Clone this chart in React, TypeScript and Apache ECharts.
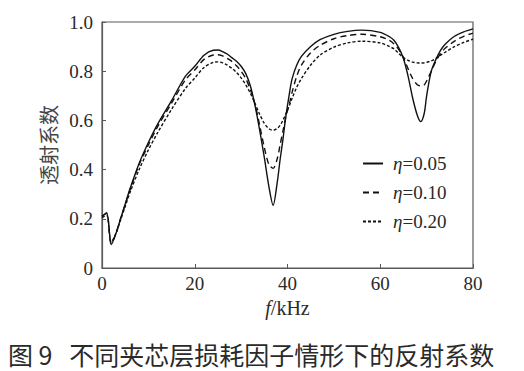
import React, { useEffect, useRef } from "react";
import * as echarts from "echarts";

const freq = [0, 1, 2, 3, 4, 5, 6, 8, 10, 12, 15, 18, 20, 22, 24, 25, 26, 27, 28, 29, 30, 31, 32, 33, 34, 35, 36, 36.9, 37.8, 38.4, 39, 39.6, 40.5, 41, 42, 43, 45, 47, 50, 53, 56, 60, 62, 63, 64, 65, 66, 67, 68, 68.75, 69.5, 70, 71, 72, 73, 74, 76, 78, 80];

const eta005 = [0.21, 0.225, 0.095, 0.14, 0.2, 0.26, 0.32, 0.425, 0.51, 0.585, 0.68, 0.78, 0.82, 0.865, 0.885, 0.886, 0.88, 0.87, 0.855, 0.84, 0.82, 0.79, 0.74, 0.66, 0.56, 0.45, 0.33, 0.255, 0.35, 0.44, 0.52, 0.61, 0.72, 0.77, 0.825, 0.86, 0.9, 0.928, 0.95, 0.962, 0.967, 0.958, 0.94, 0.925, 0.895, 0.852, 0.78, 0.69, 0.62, 0.595, 0.63, 0.7, 0.8, 0.848, 0.885, 0.91, 0.942, 0.96, 0.972];

const eta010 = [0.21, 0.222, 0.098, 0.14, 0.2, 0.258, 0.315, 0.42, 0.5, 0.575, 0.67, 0.765, 0.805, 0.848, 0.866, 0.867, 0.862, 0.852, 0.84, 0.822, 0.8, 0.77, 0.725, 0.665, 0.58, 0.49, 0.42, 0.405, 0.445, 0.5, 0.555, 0.61, 0.675, 0.715, 0.78, 0.825, 0.875, 0.905, 0.932, 0.945, 0.95, 0.94, 0.925, 0.91, 0.888, 0.855, 0.81, 0.77, 0.745, 0.74, 0.745, 0.76, 0.8, 0.84, 0.872, 0.893, 0.922, 0.942, 0.955];

const eta020 = [0.205, 0.215, 0.105, 0.14, 0.195, 0.25, 0.305, 0.4, 0.48, 0.55, 0.645, 0.73, 0.772, 0.815, 0.836, 0.838, 0.834, 0.825, 0.812, 0.795, 0.773, 0.745, 0.71, 0.668, 0.625, 0.588, 0.566, 0.56, 0.568, 0.58, 0.6, 0.625, 0.665, 0.69, 0.735, 0.77, 0.825, 0.865, 0.898, 0.915, 0.922, 0.915, 0.9, 0.89, 0.872, 0.855, 0.844, 0.837, 0.834, 0.833, 0.834, 0.836, 0.842, 0.852, 0.865, 0.877, 0.9, 0.917, 0.93];

const seriesNames = ["η=0.05", "η=0.10", "η=0.20"];
const seriesValues = [eta005, eta010, eta020];
const dashTypes: any[] = ["solid", [6, 4], [3, 2]];

const yName = "透射系数";
const caption = "图 9   不同夹芯层损耗因子情形下的反射系数";

const SERIF = "Liberation Serif";
const CJK = "Noto Sans CJK SC";
const AXIS_COLOR = "#5a5a5a";
const TEXT_COLOR = "#2a2a2a";

export default function App() {
  const ref = useRef<HTMLDivElement>(null);

  useEffect(() => {
    if (!ref.current) return;
    const chart = echarts.init(ref.current, undefined, { renderer: "svg" });
    const option: any = {
      animation: false,
      backgroundColor: "#ffffff",
      title: {
        text: caption,
        left: 8,
        top: 341,
        padding: 0,
        textStyle: {
          fontFamily: CJK,
          fontSize: 25,
          fontWeight: "normal",
          color: TEXT_COLOR,
        },
      },
      grid: {
        left: 102,
        right: 51,
        top: 22,
        bottom: 103,
        show: true,
        borderColor: AXIS_COLOR,
        borderWidth: 1.2,
        containLabel: false,
      },
      legend: {
        orient: "vertical",
        left: 357,
        top: 149,
        itemWidth: 20,
        itemHeight: 12,
        itemGap: 10,
        data: seriesNames,
        itemStyle: { opacity: 0, color: "transparent", borderWidth: 0 },
        formatter: (name: string) => `{i|η}{t|${name.slice(1)}}`,
        textStyle: {
          padding: [0, 0, 0, 5],
          rich: {
            i: { fontFamily: SERIF, fontStyle: "italic", fontSize: 19, color: TEXT_COLOR },
            t: { fontFamily: SERIF, fontSize: 19, color: TEXT_COLOR },
          },
        },
      },
      xAxis: {
        type: "value",
        min: 0,
        max: 80,
        interval: 20,
        name: "{i|f}{t|/kHz}",
        nameLocation: "middle",
        nameGap: 40,
        nameTextStyle: {
          fontFamily: SERIF,
          fontSize: 20,
          color: TEXT_COLOR,
          verticalAlign: "middle",
          rich: {
            i: { fontFamily: SERIF, fontStyle: "italic", fontSize: 20, color: TEXT_COLOR },
            t: { fontFamily: SERIF, fontSize: 20, color: TEXT_COLOR },
          },
        },
        axisLine: { show: true, lineStyle: { color: AXIS_COLOR, width: 1.2 } },
        axisTick: { show: true, inside: true, length: 4, lineStyle: { color: AXIS_COLOR } },
        axisLabel: {
          margin: 6,
          fontFamily: SERIF,
          fontSize: 19,
          color: TEXT_COLOR,
        },
        splitLine: { show: false },
      },
      yAxis: {
        type: "value",
        min: 0,
        max: 1,
        interval: 0.2,
        name: yName,
        nameLocation: "middle",
        nameGap: 53,
        nameRotate: 90,
        nameTextStyle: {
          fontFamily: CJK,
          fontSize: 20,
          color: "#444444",
          verticalAlign: "middle",
          align: "center",
        },
        axisLine: { show: true, lineStyle: { color: AXIS_COLOR, width: 1.2 } },
        axisTick: { show: true, inside: true, length: 4, lineStyle: { color: AXIS_COLOR } },
        axisLabel: {
          margin: 9,
          fontFamily: SERIF,
          fontSize: 19,
          color: TEXT_COLOR,
          formatter: (v: number) => (v === 0 ? "0" : v.toFixed(1)),
        },
        splitLine: { show: false },
      },
      series: seriesNames.map((name, k) => ({
        name,
        type: "line",
        data: freq.map((f, i) => [f, seriesValues[k][i]]),
        smooth: 0.3,
        symbol: "none",
        showSymbol: false,
        lineStyle: { color: "#111111", width: 1.4, type: dashTypes[k] },
        itemStyle: { color: "#111111" },
      })),
    };
    chart.setOption(option);
    return () => chart.dispose();
  }, []);

  return (
    <div
      ref={ref}
      style={{ position: "fixed", left: 0, top: 0, width: 524, height: 371, background: "#fff" }}
    />
  );
}
